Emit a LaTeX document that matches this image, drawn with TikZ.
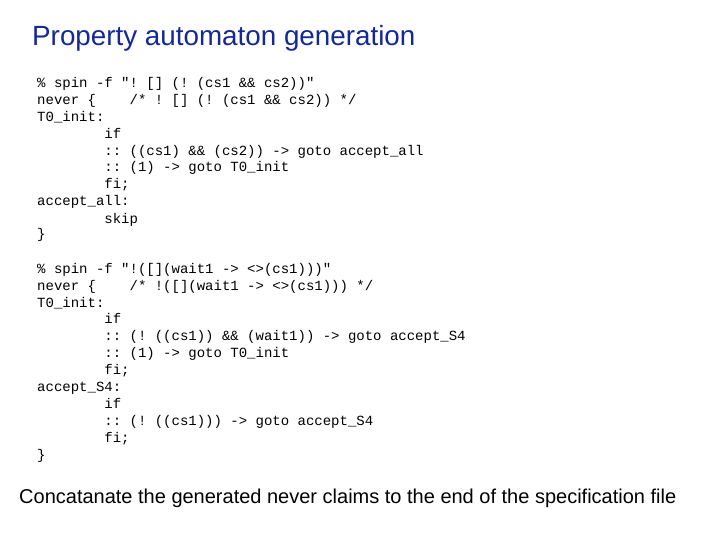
\documentclass[tikz,border=0pt]{standalone}
\usepackage{fontspec}
\setmainfont{Liberation Sans}
\newfontfamily\codefont{Liberation Mono}
\definecolor{titleblue}{RGB}{20,40,150}
\begin{document}
\begin{tikzpicture}[x=1pt,y=1pt,
  code/.style={anchor=base west,inner sep=0pt,font=\codefont\fontsize{14}{16}\selectfont},
  ttl/.style={anchor=base west,inner sep=0pt,text=titleblue,font=\fontsize{27.8}{32}\selectfont},
  foot/.style={anchor=base west,inner sep=0pt,font=\fontsize{20}{24}\selectfont}]
\useasboundingbox (0,0) rectangle (720,-540);
\def\cx#1{37+8.4*#1}
\node[ttl] (t) at (32,-46) {Property automaton generation};
% block 1
\node[code] (a1) at ({\cx0},-88) {\%~spin~-f~"!~[]~(!~(cs1~\&\&~cs2))"};
\node[code] (a2) at ({\cx0},-105) {never~\{};
\node[code] (a2b) at ({\cx{11}},-105) {/*~!~[]~(!~(cs1~\&\&~cs2))~*/};
\node[code] (a3) at ({\cx0},-122) {T0\_init:};
\node[code] (a4) at ({\cx8},-139) {if};
\node[code] (a5) at ({\cx8},-156) {::~((cs1)~\&\&~(cs2))~->~goto~accept\_all};
\node[code] (a6) at ({\cx8},-172) {::~(1)~->~goto~T0\_init};
\node[code] (a7) at ({\cx8},-189) {fi;};
\node[code] (a8) at ({\cx0},-206) {accept\_all:};
\node[code] (a9) at ({\cx8},-223) {skip};
\node[code] (a10) at ({\cx0},-239) {\}};
% block 2
\node[code] (b1) at ({\cx0},-273) {\%~spin~-f~"!([](wait1~->~<>(cs1)))"};
\node[code] (b2) at ({\cx0},-290) {never~\{};
\node[code] (b2b) at ({\cx{11}},-290) {/*~!([](wait1~->~<>(cs1)))~*/};
\node[code] (b3) at ({\cx0},-307) {T0\_init:};
\node[code] (b4) at ({\cx8},-323) {if};
\node[code] (b5) at ({\cx8},-340) {::~(!~((cs1))~\&\&~(wait1))~->~goto~accept\_S4};
\node[code] (b6) at ({\cx8},-357) {::~(1)~->~goto~T0\_init};
\node[code] (b7) at ({\cx8},-374) {fi;};
\node[code] (b8) at ({\cx0},-391) {accept\_S4:};
\node[code] (b9) at ({\cx8},-408) {if};
\node[code] (b10) at ({\cx8},-425) {::~(!~((cs1)))~->~goto~accept\_S4};
\node[code] (b11) at ({\cx8},-442) {fi;};
\node[code] (b12) at ({\cx0},-459) {\}};
\node[foot] (f) at (19,-503) {Concatanate the generated never claims to the end of the specification file};
\end{tikzpicture}
\end{document}
